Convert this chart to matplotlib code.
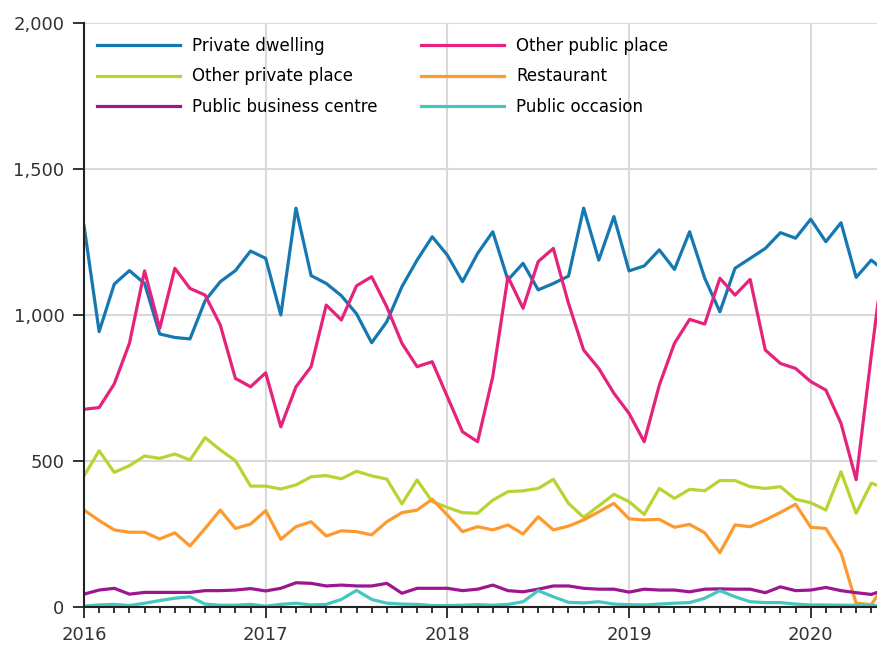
import matplotlib
matplotlib.use("Agg")
import matplotlib.pyplot as plt
from matplotlib.ticker import FuncFormatter, MultipleLocator

# monthly values, Jan 2016 - Jun 2020
private_dwelling = [1305, 942, 1105, 1151, 1107, 934, 922, 917, 1048, 1113, 1151, 1218,
                    1193, 999, 1365, 1134, 1107, 1065, 1003, 904, 976, 1096, 1187, 1267,
                    1204, 1113, 1210, 1284, 1119, 1176, 1085, 1107, 1132, 1365, 1187, 1336,
                    1150, 1167, 1222, 1155, 1284, 1125, 1010, 1159, 1193, 1227, 1281, 1262,
                    1327, 1250, 1315, 1128, 1187, 1145]
other_public = [676, 682, 763, 902, 1150, 953, 1159, 1090, 1067, 965, 782, 753,
                801, 616, 753, 822, 1033, 982, 1099, 1130, 1027, 902, 822, 839,
                719, 599, 565, 788, 1130, 1022, 1182, 1227, 1039, 879, 816, 731,
                662, 565, 759, 902, 984, 968, 1125, 1067, 1121, 879, 833, 816,
                771, 742, 628, 435, 860, 1270]
other_private = [448, 534, 460, 483, 516, 508, 523, 502, 579, 537, 500, 413,
                 413, 403, 417, 445, 449, 438, 464, 448, 437, 352, 434, 360,
                 340, 322, 320, 365, 394, 397, 405, 436, 354, 306, 345, 385,
                 360, 316, 405, 371, 402, 397, 432, 432, 411, 405, 411, 368,
                 356, 331, 462, 320, 423, 405]
restaurant = [331, 295, 263, 255, 255, 232, 253, 208, 268, 331, 268, 283,
              329, 231, 274, 291, 242, 260, 257, 246, 291, 322, 331, 368,
              314, 257, 274, 263, 280, 249, 308, 263, 276, 297, 325, 354,
              301, 297, 299, 272, 282, 253, 185, 280, 274, 297, 323, 351,
              272, 268, 185, 12, 7, 85]
business_centre = [43, 57, 63, 43, 49, 49, 49, 49, 55, 55, 57, 62,
                   54, 63, 82, 80, 71, 74, 71, 71, 80, 46, 63, 63,
                   63, 55, 60, 74, 55, 51, 60, 71, 71, 63, 60, 60,
                   50, 60, 57, 57, 51, 60, 61, 60, 60, 48, 68, 55,
                   57, 66, 55, 48, 42, 60]
public_occasion = [2, 6, 8, 4, 12, 21, 29, 34, 9, 5, 5, 8,
                   2, 8, 12, 6, 8, 25, 56, 25, 12, 9, 8, 4,
                   4, 5, 7, 5, 8, 17, 55, 34, 15, 13, 17, 9,
                   7, 6, 9, 12, 14, 29, 55, 34, 17, 14, 14, 9,
                   6, 6, 5, 5, 4, 4]
years = ["2016", "2017", "2018", "2019", "2020"]
months = list(range(len(private_dwelling)))

fig = plt.figure(figsize=(8.78, 6.48), dpi=100)
ax = fig.add_axes([84 / 878, 41.3 / 648, 794 / 878, 584 / 648])

l1, = ax.plot(months, private_dwelling, color="#1578b0", lw=2.3, label="Private dwelling")
l2, = ax.plot(months, other_public, color="#e5237d", lw=2.3, label="Other public place")
l3, = ax.plot(months, other_private, color="#b8d432", lw=2.3, label="Other private place")
l4, = ax.plot(months, restaurant, color="#fd9a2e", lw=2.3, label="Restaurant")
l5, = ax.plot(months, business_centre, color="#9c178f", lw=2.3, label="Public business centre")
l6, = ax.plot(months, public_occasion, color="#45c6bf", lw=2.3, label="Public occasion")

ax.set_xlim(0, 794 / 15.14)
ax.set_ylim(0, 2000)
ax.set_xticks([12 * i for i in range(len(years))])
ax.set_xticklabels(years)
ax.xaxis.set_minor_locator(MultipleLocator(1))
ax.set_yticks([0, 500, 1000, 1500, 2000])
ax.yaxis.set_major_formatter(FuncFormatter(lambda v, p: "{:,.0f}".format(v)))

ax.grid(True, which="major", color="#d9d9d9", lw=1.5)
ax.set_axisbelow(True)
for s in ["top", "right"]:
    ax.spines[s].set_visible(False)
for s in ["left", "bottom"]:
    ax.spines[s].set_color("#222222")
    ax.spines[s].set_linewidth(1.5)
    ax.spines[s].set_zorder(5)
ax.tick_params(axis="both", which="major", length=8, width=1.3, color="#222222",
               labelsize=13, labelcolor="#333333", pad=6)
ax.tick_params(axis="x", which="minor", length=4, width=1.3, color="#222222")

leg_kw = dict(frameon=False, fontsize=12, handlelength=5.0, handletextpad=0.7,
              labelspacing=0.74, borderpad=0, borderaxespad=0, loc="upper left")
leg1 = ax.legend(handles=[l1, l3, l5], bbox_to_anchor=(97 / 878, 1 - 37 / 648),
                 bbox_transform=fig.transFigure, **leg_kw)
ax.add_artist(leg1)
ax.legend(handles=[l2, l4, l6], bbox_to_anchor=(421 / 878, 1 - 37 / 648),
          bbox_transform=fig.transFigure, **leg_kw)

plt.savefig("out.png", dpi=100)
